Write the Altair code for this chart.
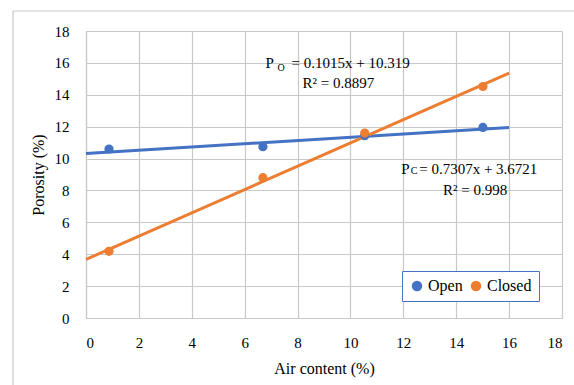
import altair as alt
import pandas as pd

# ---- data ----
air = [0.87, 6.69, 10.54, 15.01]
open_por = [10.6, 10.74, 11.43, 11.95]
closed_por = [4.18, 8.80, 11.6, 14.52]

trend_x = [0, 16]
open_trend = [10.319, 11.943]
closed_trend = [3.672, 15.363]

series = ["Open", "Closed"]
colors = ["#4472c4", "#ed7d31"]
ticks = list(range(0, 19, 2))

# annotation text (label, x, y)
eq_main = ["P", "= 0.1015x + 10.319", "R² = 0.8897", "P", "= 0.7307x + 3.6721", "R² = 0.998"]
eq_main_x = [6.79, 7.77, 8.19, 11.92, 12.6, 13.5]
eq_main_y = [16.0, 16.0, 14.75, 9.36, 9.36, 8.04]
eq_sub = ["O", "C"]
eq_sub_x = [7.24, 12.28]
eq_sub_y = [15.71, 9.19]

FONT = "Liberation Serif"
GRID = "#c8c8c8"

pts = pd.DataFrame({
    "x": air + air,
    "y": open_por + closed_por,
    "s": ["Open"] * len(air) + ["Closed"] * len(air),
})
trend = pd.DataFrame({
    "x": trend_x + trend_x,
    "y": open_trend + closed_trend,
    "trend": ["Open"] * 2 + ["Closed"] * 2,
})
ann = pd.DataFrame({"t": eq_main, "x": eq_main_x, "y": eq_main_y})
sub = pd.DataFrame({"t": eq_sub, "x": eq_sub_x, "y": eq_sub_y})

xscale = alt.Scale(domain=[0, 18], nice=False, zero=False)
yscale = alt.Scale(domain=[0, 18], nice=False, zero=False)

common = dict(grid=True, gridColor=GRID, gridWidth=1.2, gridOpacity=1,
              domain=True, domainColor=GRID, domainWidth=1.2,
              ticks=False, labelOverlap=False,
              labelFont=FONT, labelFontSize=15, labelColor="#000000",
              titleFont=FONT, titleFontSize=16, titleFontWeight="normal",
              titleColor="#000000")
xaxis = alt.Axis(values=ticks, title="Air content (%)", labelPadding=17, titlePadding=10, **common)
yaxis = alt.Axis(values=ticks, title="Porosity (%)", labelPadding=17, titlePadding=8, **common)

X = alt.X("x:Q", scale=xscale, axis=xaxis)
Y = alt.Y("y:Q", scale=yscale, axis=yaxis)

frame_top = alt.Chart(pd.DataFrame({"a": [0]})).mark_rule(
    color=GRID, strokeWidth=1.2
).encode(x=alt.value(-73), x2=alt.value(600), y=alt.value(-20))
frame_left = alt.Chart(pd.DataFrame({"a": [0]})).mark_rule(
    color=GRID, strokeWidth=1.2
).encode(x=alt.value(-73), y=alt.value(-20), y2=alt.value(400))

lines = alt.Chart(trend).mark_line(strokeWidth=3).encode(
    x=X, y=Y,
    stroke=alt.Stroke("trend:N", scale=alt.Scale(domain=series, range=colors), legend=None),
    detail="trend:N",
)

points = alt.Chart(pts).mark_circle(size=85, opacity=1).encode(
    x=X, y=Y,
    color=alt.Color("s:N", scale=alt.Scale(domain=series, range=colors),
                    legend=alt.Legend(title=None, orient="none", legendX=316, legendY=240,
                                      direction="horizontal", strokeColor="#4472c4",
                                      fillColor="#ffffff", padding=7, symbolType="circle",
                                      symbolSize=110, labelFont=FONT, labelFontSize=16,
                                      labelColor="#000000", columnPadding=5, labelOffset=3)),
)

text = alt.Chart(ann).mark_text(align="left", baseline="middle", font=FONT,
                                fontSize=15, color="#000000").encode(
    x=X, y=Y, text="t:N")
subtext = alt.Chart(sub).mark_text(align="left", baseline="middle", font=FONT,
                                   fontSize=10, color="#000000").encode(
    x=X, y=Y, text="t:N")

chart = alt.layer(frame_top, frame_left, lines, points, text, subtext).properties(
    width=476, height=287,
    autosize=alt.AutoSizeParams(type="none"),
    padding={"left": 86, "top": 31, "right": 12, "bottom": 67},
    background="#ffffff",
).resolve_scale(color="independent", stroke="independent").configure_view(stroke=None)

chart.save("out.html", embed_options={"renderer": "svg", "actions": False})
